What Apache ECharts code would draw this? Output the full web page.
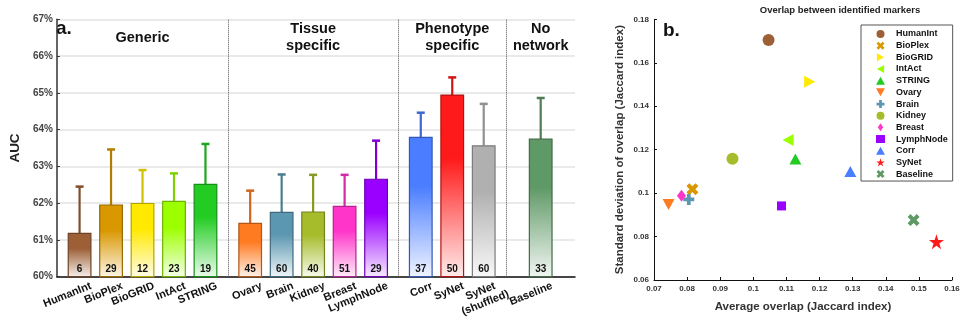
<!DOCTYPE html>
<html>
<head>
<meta charset="utf-8">
<script src="https://cdn.jsdelivr.net/npm/echarts@6/dist/echarts.min.js"></script>
<style>
  html, body { margin: 0; padding: 0; background: #fff; }
  #chart { width: 966px; height: 325px; }
</style>
</head>
<body>
<div id="chart"></div>
<script>
const FONT = '"Liberation Sans", Arial, Helvetica, sans-serif';

// ---- Panel a: AUC of each network ----
const networks = ['HumanInt', 'BioPlex', 'BioGRID', 'IntAct', 'STRING',
  'Ovary', 'Brain', 'Kidney', 'Breast', 'LymphNode',
  'Corr', 'SyNet', 'SyNet\n(shuffled)', 'Baseline'];
const aucMean = [61.18, 61.95, 61.99, 62.05, 62.51, 61.45, 61.75, 61.76, 61.91, 62.65, 63.79, 64.94, 63.56, 63.74];
const aucErr  = [1.27, 1.51, 0.91, 0.76, 1.10, 0.89, 1.03, 1.01, 0.86, 1.05, 0.67, 0.48, 1.14, 1.12];
const markerCount = [6, 29, 12, 23, 19, 45, 60, 40, 51, 29, 37, 50, 60, 33];
const barColors = ['#9c5f36', '#d99700', '#ffe900', '#9cff00', '#22cc22',
  '#ff7b22', '#5c97b1', '#a6bc2a', '#ff35c9', '#9a00ff',
  '#4a7dff', '#ff1a1a', '#b0b0b0', '#5f9966'];
const groupTitles = ['Generic', 'Tissue\nspecific', 'Phenotype\nspecific', 'No\nnetwork'];
const groupSizes = [5, 5, 3, 1];
const aucTicks = [60, 61, 62, 63, 64, 65, 66, 67];

// ---- Panel b: overlap between identified markers ----
const overlapNames = ['HumanInt', 'BioPlex', 'BioGRID', 'IntAct', 'STRING', 'Ovary', 'Brain',
  'Kidney', 'Breast', 'LymphNode', 'Corr', 'SyNet', 'Baseline'];
const overlapMean = [0.1046, 0.0816, 0.1170, 0.1105, 0.1127, 0.0744, 0.0805, 0.0937, 0.0783, 0.1085, 0.1293, 0.1553, 0.1484];
const overlapStd  = [0.1705, 0.1018, 0.1513, 0.1244, 0.1157, 0.0948, 0.0971, 0.1158, 0.0988, 0.0941, 0.1099, 0.0776, 0.0876];
const overlapColors = ['#9c5f36', '#d99700', '#ffe900', '#9cff00', '#22cc22', '#ff7b22', '#5c97b1',
  '#a6bc2a', '#ff35c9', '#9a00ff', '#4a7dff', '#ff1a1a', '#5f9966'];

// marker shapes (drawn as paths so the legend keeps their orientation)
const PLUS = 'path://M3.3,0H6.7V3.3H10V6.7H6.7V10H3.3V6.7H0V3.3H3.3Z';
const CROSS = 'path://M0,2.4L2.4,0L5,2.6L7.6,0L10,2.4L7.4,5L10,7.6L7.6,10L5,7.4L2.4,10L0,7.6L2.6,5Z';
const TRI_UP = 'path://M5,0L10,9L0,9Z';
const TRI_DOWN = 'path://M0,0L10,0L5,9Z';
const TRI_RIGHT = 'path://M0,0L9,5L0,10Z';
const TRI_LEFT = 'path://M9,0L0,5L9,10Z';
const DIAMOND = 'path://M4,0L8,6L4,12L0,6Z';
const STAR = 'path://M50,0L61.8,35.1L98.9,35.1L68.9,56.7L80.3,91.9L50,70.2L19.7,91.9L31.1,56.7L1.1,35.1L38.2,35.1Z';
const overlapSymbols = [
  { symbol: 'circle', size: 12 },
  { symbol: CROSS, size: 12 },
  { symbol: TRI_RIGHT, size: [11, 12] },
  { symbol: TRI_LEFT, size: [11, 12] },
  { symbol: TRI_UP, size: [12, 11] },
  { symbol: TRI_DOWN, size: [12, 11] },
  { symbol: PLUS, size: 11 },
  { symbol: 'circle', size: 12 },
  { symbol: DIAMOND, size: [9, 12] },
  { symbol: 'rect', size: 9 },
  { symbol: TRI_UP, size: [12, 11] },
  { symbol: STAR, size: 15 },
  { symbol: CROSS, size: 12 }
];

// ---- layout helpers ----
// section widths in bar slots; bars are centred in their section
const sectionWidths = [5.44, 5.4, 3.44, 2.18];
const X_MAX = sectionWidths.reduce((a, b) => a + b, 0);
const BAR_W = 0.72;
const LABEL_ROT = 22 * Math.PI / 180;

const barX = [];
const sectionCenters = [];
const dividers = [];
{
  let start = 0;
  groupSizes.forEach((n, g) => {
    const c = start + sectionWidths[g] / 2;
    sectionCenters.push(c);
    for (let k = 0; k < n; k++) barX.push(c - (n - 1) / 2 + k);
    start += sectionWidths[g];
    if (g < groupSizes.length - 1) dividers.push(start);
  });
}

function mix(hex, target, t) {
  const a = parseInt(hex.slice(1), 16), b = parseInt(target.slice(1), 16);
  const ch = (v, s) => (v >> s) & 255;
  const r = Math.round(ch(a, 16) + (ch(b, 16) - ch(a, 16)) * t);
  const g = Math.round(ch(a, 8) + (ch(b, 8) - ch(a, 8)) * t);
  const bl = Math.round(ch(a, 0) + (ch(b, 0) - ch(a, 0)) * t);
  return 'rgb(' + r + ',' + g + ',' + bl + ')';
}

const measureCtx = document.createElement('canvas').getContext('2d');
const LABEL_FONT_SIZE = 11;
measureCtx.font = 'bold ' + LABEL_FONT_SIZE + 'px ' + FONT;

const barData = networks.map((n, i) => [barX[i], aucMean[i], aucErr[i], markerCount[i]]);

function renderBar(params, api) {
  const i = params.dataIndex;
  const x = api.value(0), mean = api.value(1), err = api.value(2);
  const base = api.coord([x, aucTicks[0]]);
  const top = api.coord([x, mean]);
  const etop = api.coord([x, mean + err]);
  const left = api.coord([x - BAR_W / 2, mean])[0];
  const right = api.coord([x + BAR_W / 2, mean])[0];
  const color = barColors[i];
  const dark = mix(color, '#000000', 0.18);
  const edge = mix(color, '#000000', 0.3);
  const children = [];
  // error bar
  children.push({
    type: 'line', shape: { x1: top[0], y1: top[1], x2: etop[0], y2: etop[1] },
    style: { stroke: dark, lineWidth: 2.2 }
  });
  children.push({
    type: 'line', shape: { x1: top[0] - 4, y1: etop[1], x2: top[0] + 4, y2: etop[1] },
    style: { stroke: dark, lineWidth: 2.5 }
  });
  // bar with fade towards the bottom
  children.push({
    type: 'rect',
    shape: { x: left, y: top[1], width: right - left, height: base[1] - top[1] },
    style: {
      fill: {
        type: 'linear', x: 0, y: 0, x2: 0, y2: 1,
        colorStops: [
          { offset: 0, color: color },
          { offset: 0.35, color: color },
          { offset: 1, color: mix(color, '#ffffff', 0.92) }
        ]
      },
      stroke: edge, lineWidth: 1.2
    }
  });
  // number of markers
  children.push({
    type: 'text', x: base[0], y: base[1] - 7,
    style: {
      text: String(api.value(3)), align: 'center', verticalAlign: 'middle',
      font: 'bold 10px ' + FONT, fill: '#111'
    }
  });
  // rotated category label
  const lines = networks[i].split('\n');
  const ax = base[0] + 9, ay = base[1] + 3;
  const ux = Math.cos(LABEL_ROT), uy = -Math.sin(LABEL_ROT);
  const dx = Math.sin(LABEL_ROT), dy = Math.cos(LABEL_ROT);
  const lh = 12.5;
  const w0 = measureCtx.measureText(lines[0]).width;
  const c0x = ax - ux * w0 / 2 + dx * lh / 2;
  const c0y = ay - uy * w0 / 2 + dy * lh / 2;
  lines.forEach((ln, k) => {
    children.push({
      type: 'text', x: c0x + dx * lh * k, y: c0y + dy * lh * k, rotation: LABEL_ROT,
      style: {
        text: ln, align: 'center', verticalAlign: 'middle',
        font: 'bold ' + LABEL_FONT_SIZE + 'px ' + FONT, fill: '#111'
      }
    });
  });
  return { type: 'group', children: children };
}

function renderSectionTitle(params, api) {
  const p = api.coord([api.value(0), api.value(1)]);
  return {
    type: 'text', x: p[0], y: p[1],
    style: {
      text: groupTitles[params.dataIndex], align: 'center', verticalAlign: 'middle',
      font: 'bold 14.5px ' + FONT, fill: '#111', lineHeight: 17
    }
  };
}

const chart = echarts.init(document.getElementById('chart'), null, { renderer: 'canvas' });

const scatterSeries = overlapNames.map((name, i) => ({
  name: name,
  type: 'scatter',
  xAxisIndex: 1, yAxisIndex: 1,
  data: [[overlapMean[i], overlapStd[i]]],
  symbol: overlapSymbols[i].symbol,
  symbolSize: overlapSymbols[i].size,
  itemStyle: { color: overlapColors[i], opacity: 1 },
  emphasis: { disabled: true },
  z: 3
}));

const axisLabelStyle = { fontFamily: FONT, fontWeight: 'bold', color: '#333' };

chart.setOption({
  animation: false,
  backgroundColor: '#ffffff',
  grid: [
    { left: 50, right: 391, top: 19.3, bottom: 48.3 },
    { left: 654, right: 14, top: 19.3, bottom: 45 }
  ],
  xAxis: [
    {
      type: 'value', gridIndex: 0, min: 0, max: X_MAX,
      axisLine: { show: true, lineStyle: { color: '#111', width: 1.5 } },
      axisTick: { show: false }, axisLabel: { show: false }, splitLine: { show: false }
    },
    {
      type: 'value', gridIndex: 1, min: 0.07, max: 0.16, interval: 0.01,
      name: 'Average overlap (Jaccard index)', nameLocation: 'middle', nameGap: 21,
      nameTextStyle: { fontFamily: FONT, fontWeight: 'bold', fontSize: 11.5, color: '#333' },
      axisLine: { show: true, lineStyle: { color: '#111', width: 1 } },
      axisTick: { show: true, inside: true, length: 3, lineStyle: { color: '#111' } },
      axisLabel: Object.assign({ fontSize: 8, margin: 5 }, axisLabelStyle),
      splitLine: { show: false }
    }
  ],
  yAxis: [
    {
      type: 'value', gridIndex: 0, min: aucTicks[0], max: aucTicks[aucTicks.length - 1], interval: 1,
      name: 'AUC', nameLocation: 'middle', nameGap: 27,
      nameTextStyle: { fontFamily: FONT, fontWeight: 'bold', fontSize: 13.5, color: '#222' },
      axisLine: { show: true, lineStyle: { color: '#333', width: 1.5 } },
      axisTick: { show: true, inside: true, length: 3, lineStyle: { color: '#333' } },
      axisLabel: Object.assign({ fontSize: 10, margin: 4, formatter: '{value}%' }, axisLabelStyle, { color: '#444' }),
      splitLine: { show: true, lineStyle: { color: '#e3e3e3', width: 1.5 } }
    },
    {
      type: 'value', gridIndex: 1, min: 0.06, max: 0.18, interval: 0.02,
      name: 'Standard deviation of overlap (Jaccard index)', nameLocation: 'middle', nameGap: 28,
      nameTextStyle: { fontFamily: FONT, fontWeight: 'bold', fontSize: 11.5, color: '#333' },
      axisLine: { show: true, lineStyle: { color: '#111', width: 1 } },
      axisTick: { show: true, inside: true, length: 3, lineStyle: { color: '#111' } },
      axisLabel: Object.assign({ fontSize: 8, margin: 5 }, axisLabelStyle),
      splitLine: { show: false }
    }
  ],
  legend: {
    orient: 'vertical', left: 861, top: 25,
    data: overlapNames,
    backgroundColor: '#fff', borderColor: '#555', borderWidth: 1,
    padding: [4, 5, 2, 15],
    itemWidth: 9, itemHeight: 8, itemGap: 1.67,
    selectedMode: false,
    textStyle: { fontFamily: FONT, fontWeight: 'bold', fontSize: 9, color: '#111', lineHeight: 10, padding: [0, 0, 0, 6] }
  },
  graphic: [
    { type: 'text', left: 56, top: 19, style: { text: 'a.', font: 'bold 19px ' + FONT, fill: '#111' } },
    { type: 'text', left: 663, top: 21, style: { text: 'b.', font: 'bold 19px ' + FONT, fill: '#111' } },
    { type: 'text', x: 840, y: 10, style: { text: 'Overlap between identified markers', align: 'center', verticalAlign: 'middle', font: 'bold 9.5px ' + FONT, fill: '#222' } }
  ],
  series: [
    {
      type: 'custom', xAxisIndex: 0, yAxisIndex: 0, clip: false,
      data: barData, renderItem: renderBar, z: 3,
      markLine: {
        silent: true, symbol: ['none', 'none'], label: { show: false },
        lineStyle: { type: 'dotted', color: '#555', width: 1 },
        data: dividers.map(d => ({ xAxis: d }))
      }
    },
    {
      type: 'custom', xAxisIndex: 0, yAxisIndex: 0, clip: false,
      data: sectionCenters.map(c => [c, 66.5]), renderItem: renderSectionTitle, z: 4
    }
  ].concat(scatterSeries)
});
</script>
</body>
</html>
